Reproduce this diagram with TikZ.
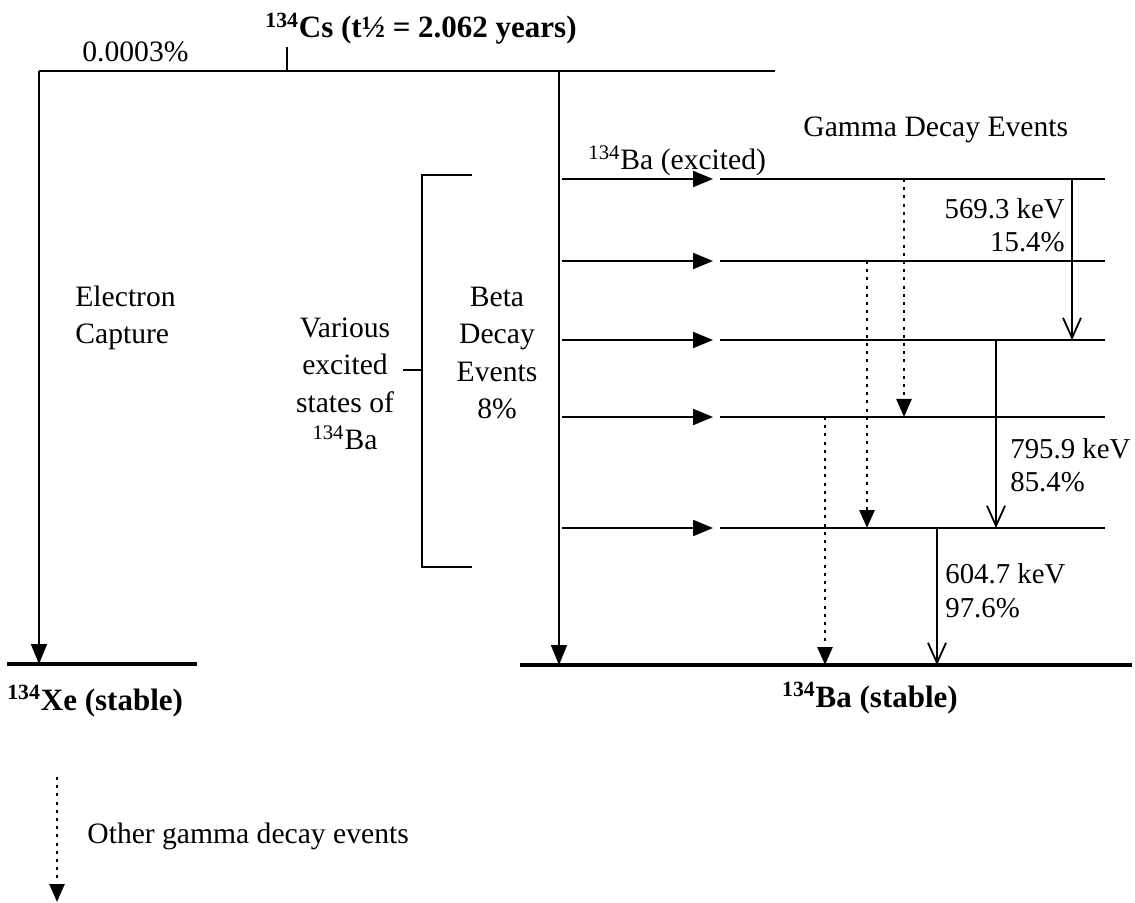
\documentclass[tikz,border=0pt]{standalone}
\usepackage{fontspec}
\setmainfont{Liberation Serif}
\usetikzlibrary{arrows.meta}

\begin{document}
\begin{tikzpicture}[
    x=0.5pt, y=-0.5pt,
    txt/.style={font=\fontsize{14.8}{18.8}\selectfont, inner sep=0pt},
    hdr/.style={font=\fontsize{15.5}{18}\selectfont\bfseries, inner sep=0pt},
    kev/.style={font=\fontsize{14.4}{16.8}\selectfont, inner sep=0pt},
    thin/.style={line width=0.9pt},
    lvl/.style={line width=1.1pt},
    gnd/.style={line width=2.4pt},
    fall/.style={thin, -{Triangle[length=10pt,width=8pt]}},
    beta/.style={lvl, -{Triangle[length=10pt,width=8pt]}, shorten >=3.5pt},
    gam/.style={thin, -{Straight Barb[length=10pt,width=9pt]}},
    dots/.style={line width=1.3pt, dash pattern=on 1.5pt off 2.6pt,
                 -{Triangle[length=9pt,width=7.5pt]}}
]
\useasboundingbox (0,0) rectangle (1135,903);

%% Parent Cs-134
\node[hdr, anchor=base west] (cs) at (265,38) {\textsuperscript{134}Cs (t½ = 2.062 years)};
\node[txt, anchor=base west] (ecpct) at (82,62) {0.0003\%};
\coordinate (csw) at (39,71);
\coordinate (cse) at (775,71);
\coordinate (cstick) at (287,47);
\coordinate (betadrop) at (559,71);
\draw[thin] (csw) -- (cse);
\draw[thin] (cstick) -- (cstick |- csw);

%% Electron capture branch
\coordinate (xew) at (7,664);
\coordinate (xee) at (197,664);
\draw[gnd] (xew) -- (xee);
\draw[fall] (csw) -- (csw |- xew);
\node[hdr, anchor=base west] (xe) at (7,710) {\textsuperscript{134}Xe (stable)};
\node[txt, anchor=base west, align=left] (ec) at (75,344) {Electron\\Capture};

%% Ground state Ba-134
\coordinate (baw) at (520,665);
\coordinate (bae) at (1132,665);
\draw[gnd] (baw) -- (bae);
\draw[fall] (betadrop) -- (betadrop |- baw);
\node[hdr, anchor=base] (ba) at (870,707) {\textsuperscript{134}Ba (stable)};

%% Bracket over the excited states
\coordinate (brt) at (472,175);
\coordinate (brb) at (472,567);
\coordinate (brk) at (422,370);
\coordinate (brd) at (403,370);
\draw[thin] (brt) -- (brt -| brk) -- (brb -| brk) -- (brb);
\draw[thin] (brd) -- (brk);
\node[txt, anchor=base, align=center] (various) at (345,450)
      {Various\\excited\\states of\\\textsuperscript{134}Ba};
\node[txt, anchor=base, align=center] (betaev) at (497,419)
      {Beta\\Decay\\Events\\8\%};

%% Excited levels, fed by beta decay
\foreach \i/\y in {1/179, 2/261, 3/340, 4/417, 5/528} {
  \coordinate (b\i) at (562,\y);
  \coordinate (l\i) at (720,\y);
  \coordinate (r\i) at (1105,\y);
  \draw[beta] (b\i) -- (l\i);
  \draw[lvl] (l\i) -- (r\i);
}
\node[txt, anchor=base west] (baex) at (588,170) {\textsuperscript{134}Ba (excited)};
\node[txt, anchor=base west] (gamhdr) at (803,137) {Gamma Decay Events};

%% Gamma transitions
\coordinate (g1) at (1072,0);
\coordinate (g2) at (996,0);
\coordinate (g3) at (937,0);
\coordinate (d1) at (904,0);
\coordinate (d2) at (867,0);
\coordinate (d3) at (825,0);
\draw[gam] (g1 |- l1) -- (g1 |- l3);
\draw[gam] (g2 |- l3) -- (g2 |- l5);
\draw[gam] (g3 |- l5) -- (g3 |- baw);
\draw[dots] (d1 |- l1) -- (d1 |- l4);
\draw[dots] (d2 |- l2) -- (d2 |- l5);
\draw[dots] (d3 |- l4) -- (d3 |- baw);

\node[kev, anchor=base east, align=right] (k569) at (1065,252) {569.3 keV\\15.4\%};
\node[kev, anchor=base west, align=left] (k796) at (1010,492) {795.9 keV\\85.4\%};
\node[kev, anchor=base west, align=left] (k605) at (945,617) {604.7 keV\\97.6\%};

%% Legend
\coordinate (lgt) at (57,777);
\coordinate (lgb) at (57,902);
\draw[dots] (lgt) -- (lgb);
\node[txt, anchor=base west] (lg) at (87,843) {Other gamma decay events};

\end{tikzpicture}
\end{document}
